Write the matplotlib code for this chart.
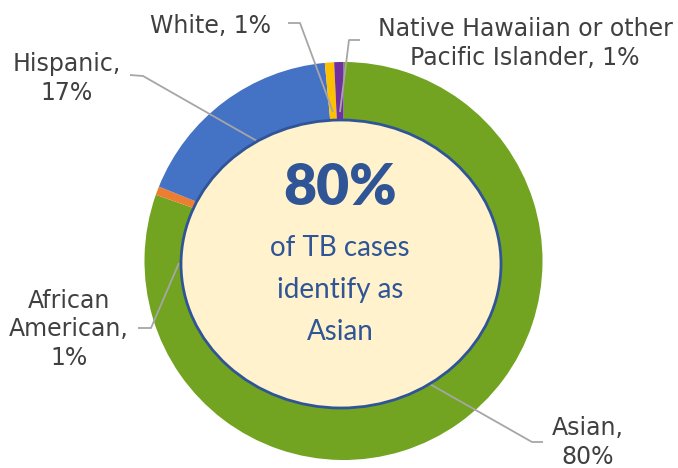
import matplotlib.pyplot as plt
from matplotlib.patches import Ellipse

# Data
groups = ["Asian", "African American", "Hispanic", "White",
          "Native Hawaiian or other Pacific Islander"]
shares = [80.4, 0.7, 17.4, 0.75, 0.75]
label_text = ["Asian,\n80%", "African\nAmerican,\n1%", "Hispanic,\n17%",
              "White, 1%", "Native Hawaiian or other\nPacific Islander, 1%"]
headline = "80%"
subline = "of TB cases\nidentify as\nAsian"

colors = ["#72A321", "#ED7D31", "#4472C4", "#FFC000", "#7030A0"]
label_color = "#404040"
dark_blue = "#2F5597"
line_color = "#A6A6A6"

# label anchor (last-line baseline) and leader line points, image pixel coords
label_pos = [(588, 464), (69, 365), (67, 100), (211, 33), (525, 65)]
leaders = [
    [(543, 442), (532, 442), (428, 383)],
    [(138, 328), (151, 328), (179, 263)],
    [(130, 75), (143, 76), (257, 141)],
    [(288, 23), (300, 23), (333, 112)],
    [(360, 40), (349, 40), (340, 112)],
]

fig = plt.figure(figsize=(6.78, 4.68), dpi=100)
ax = fig.add_axes([0, 0, 1, 1])

# y axis is inverted below, so counterclock in data = clockwise on screen
ax.pie(shares, colors=colors, startangle=-90, counterclock=True,
       center=(343.5, 261), radius=199, frame=True,
       wedgeprops=dict(linewidth=0))
ax.set_xlim(0, 678)
ax.set_ylim(468, 0)  # y down, like the picture
ax.set_aspect("equal")
ax.axis("off")

for pts in leaders:
    xs = [p[0] for p in pts]
    ys = [p[1] for p in pts]
    ax.plot(xs, ys, color=line_color, lw=1.3, zorder=3, solid_capstyle="butt")

ax.add_patch(Ellipse((341, 264), 320, 288, facecolor="#FFF2CC",
                     edgecolor=dark_blue, lw=2, zorder=4))

for txt, (x, y) in zip(label_text, label_pos):
    ax.text(x, y, txt, ha="center", va="baseline", fontsize=17,
            color=label_color, family="DejaVu Sans", linespacing=1.25, zorder=5)

ax.text(340, 205, headline, ha="center", va="baseline", fontsize=41,
        fontweight="heavy", color=dark_blue, family="Lato", zorder=5)
ax.text(340, 340, subline, ha="center", va="baseline", fontsize=20,
        color=dark_blue, family="Lato", linespacing=1.75, zorder=5)

fig.savefig("out.png", dpi=100)
